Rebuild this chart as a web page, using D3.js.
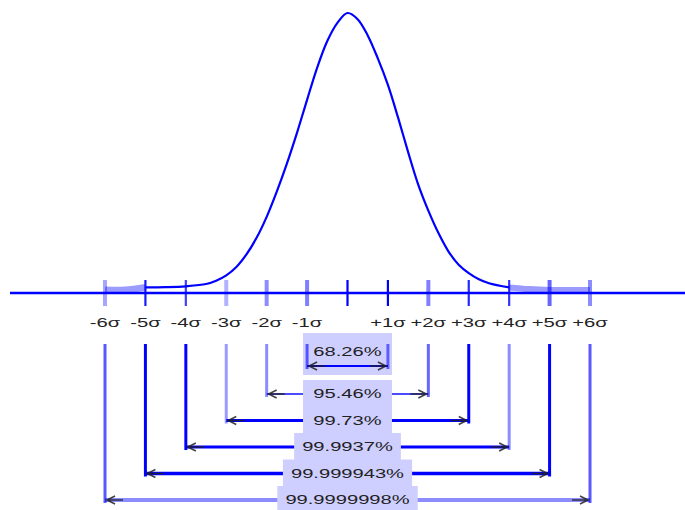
<!DOCTYPE html>
<html>
<head>
<meta charset="utf-8">
<script src="https://cdn.jsdelivr.net/npm/d3@7"></script>
<style>
  body { margin: 0; background: #fff; }
  text { font-family: Arial, "Liberation Sans", sans-serif; fill: #222; }
</style>
</head>
<body>
<div id="graph"></div>
<script>
// sigma ticks along the axis
var sigmas = [-6, -5, -4, -3, -2, -1, 0, 1, 2, 3, 4, 5, 6];
var tickLabels = ["-6\u03c3", "-5\u03c3", "-4\u03c3", "-3\u03c3", "-2\u03c3", "-1\u03c3", "",
                  "+1\u03c3", "+2\u03c3", "+3\u03c3", "+4\u03c3", "+5\u03c3", "+6\u03c3"];

// bell curve (x in sigma, height relative to peak)
var curveSigma  = [-6, -5.5, -5, -4.5, -4, -3.5, -3.25, -3, -2.75, -2.5, -2.25, -2, -1.75, -1.5, -1.25, -1, -0.75, -0.5, -0.25, 0,
                   0.25, 0.5, 0.75, 1, 1.25, 1.5, 1.75, 2, 2.25, 2.5, 2.75, 3, 3.25, 3.5, 4, 4.5, 5, 5.5, 6];
var curveHeight = [0.011, 0.011, 0.02, 0.021, 0.024, 0.032, 0.044, 0.063, 0.093, 0.138, 0.197, 0.272, 0.362, 0.462, 0.572, 0.69, 0.805, 0.9, 0.965, 1,
                   0.978, 0.92, 0.838, 0.743, 0.627, 0.503, 0.387, 0.294, 0.214, 0.148, 0.101, 0.071, 0.049, 0.035, 0.02, 0.014, 0.011, 0.011, 0.011];

// coverage brackets
var bandSigma  = [1, 2, 3, 4, 5, 6];
var bandLabels = ["68.26%", "95.46%", "99.73%", "99.9937%", "99.999943%", "99.9999998%"];

var W = 685, H = 510;
var blue = "#0000ff", lightBlue = "#9a9aff", boxFill = "#cfcfff";
var axisY = 293;

var svg = d3.select("#graph").append("svg").attr("width", W).attr("height", H);
svg.append("rect").attr("width", W).attr("height", H).attr("fill", "#fff");

var x = d3.scaleLinear().domain([-6, 6]).range([105, 590]);
var y = d3.scaleLinear().domain([0, 1]).range([axisY, 13]);
// vertical level of each bracket
var levelY = d3.scaleLinear().domain([1, 5]).range([394, 500]);
function level(i){ return i === 0 ? 366 : levelY(i); }

var pts = curveSigma.map(function(s, i){ return [s, curveHeight[i]]; });
var line = d3.line().x(function(d){ return x(d[0]); }).y(function(d){ return y(d[1]); })
  .curve(d3.curveCatmullRom.alpha(0.5));

// light tails close to the axis
svg.append("path").attr("d", line(pts.filter(function(d){ return d[0] <= -5; })))
  .attr("fill", "none").attr("stroke", lightBlue).attr("stroke-width", 7);
svg.append("path").attr("d", line(pts.filter(function(d){ return d[0] >= 4; })))
  .attr("fill", "none").attr("stroke", lightBlue).attr("stroke-width", 6);

// axis
svg.append("line").attr("x1", 10).attr("x2", W).attr("y1", axisY).attr("y2", axisY)
  .attr("stroke", blue).attr("stroke-width", 2.5);

// curve
svg.append("path").attr("d", line(pts.filter(function(d){ return d[0] >= -5 && d[0] <= 4; })))
  .attr("fill", "none").attr("stroke", blue).attr("stroke-width", 2.2);

// ticks
var tickTone = [0.35, 0.9, 0.75, 0.3, 0.45, 0.5, 1, 1, 0.5, 0.85, 0.8, 0.6, 0.45];
svg.selectAll("line.tick").data(sigmas).enter().append("line")
  .attr("class", "tick")
  .attr("x1", function(d){ return x(d); }).attr("x2", function(d){ return x(d); })
  .attr("y1", 280).attr("y2", 306)
  .attr("stroke", blue)
  .attr("stroke-opacity", function(d, i){ return tickTone[i]; })
  .attr("stroke-width", function(d, i){ return tickTone[i] < 0.7 ? 4 : 2.2; });

svg.selectAll("text.tl").data(tickLabels).enter().append("text")
  .attr("class", "tl")
  .attr("text-anchor", "middle")
  .attr("font-size", 13.5)
  .attr("transform", function(d, i){ return "translate(" + x(sigmas[i]) + ",327) scale(1.5,1)"; })
  .text(function(d){ return d; });

// bracket boxes + labels
var g = svg.append("g");
bandLabels.forEach(function(lab, i){
  var ly = level(i);
  var t = g.append("text").attr("font-size", 13).attr("text-anchor", "middle").text(lab);
  var tw = t.node().getComputedTextLength() * 1.55;
  var bw = Math.max(tw + 16, 89);
  var ty = i === 0 ? 356 : ly + 4;
  var top = i === 0 ? 333 : ly - 14;
  var bh = i === 0 ? 42 : 27;
  var x0 = x(0) - bw / 2, x1 = x(0) + bw / 2;
  g.insert("rect", "text").attr("x", x0).attr("y", top).attr("width", bw).attr("height", bh)
    .attr("fill", boxFill);
  t.attr("transform", "translate(" + x(0) + "," + ty + ") scale(1.55,1)");

  var s = bandSigma[i];
  var xl = x(-s), xr = x(s);
  var tone = [1, 0.7, 1, 1, 1, 0.45][i];
  var sw = [2, 2, 3, 3, 3.5, 4][i];
  var segs = i === 0 ? [[xl, xr]] : [[xl, x0], [x1, xr]];
  segs.forEach(function(sg){
    svg.append("line").attr("x1", sg[0]).attr("x2", sg[1]).attr("y1", ly).attr("y2", ly)
      .attr("stroke", blue).attr("stroke-opacity", tone).attr("stroke-width", sw);
  });
  [xl, xr].forEach(function(xx, k){
    svg.append("line").attr("x1", xx).attr("x2", xx).attr("y1", 344).attr("y2", ly + 3)
      .attr("stroke", blue)
      .attr("stroke-opacity", [[0.6, 0.55], [0.45, 0.6], [0.4, 1], [1, 0.45], [1, 1], [0.65, 0.65]][i][k])
      .attr("stroke-width", 3);
    var dir = k === 0 ? 1 : -1;
    var tip = xx + dir * 2;
    svg.append("path")
      .attr("d", "M" + (tip + dir * 8) + "," + (ly - 4) + "L" + tip + "," + ly + "L" + (tip + dir * 8) + "," + (ly + 4) +
                 "M" + tip + "," + ly + "L" + (tip + dir * 16) + "," + ly)
      .attr("fill", "none").attr("stroke", "#222").attr("stroke-width", 1.6).attr("stroke-opacity", 0.85);
  });
});
</script>
</body>
</html>
